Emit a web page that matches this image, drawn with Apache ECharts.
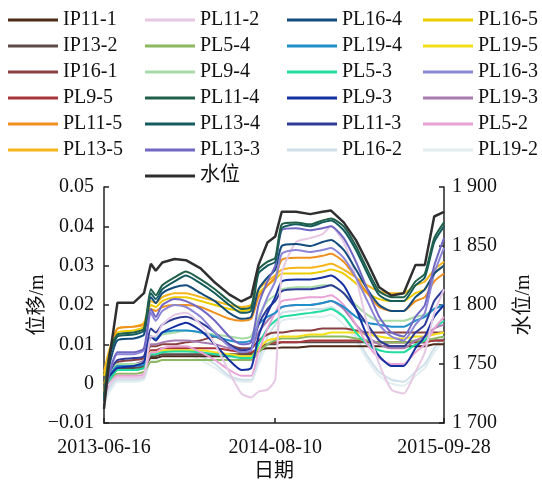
<!DOCTYPE html>
<html>
<head>
<meta charset="utf-8">
<script src="https://cdn.jsdelivr.net/npm/echarts@6/dist/echarts.min.js"></script>
<style>
html,body{margin:0;padding:0;background:#fff}
#chart{width:542px;height:484px}
</style>
</head>
<body>
<div id="chart"></div>
<script>
// sample dates (x axis)
var dates = ['2013-06-16','2013-06-30','2013-07-19','2013-08-28','2013-09-22','2013-10-09','2013-10-21',
    '2013-11-06','2013-12-06','2014-01-03','2014-02-08','2014-03-15','2014-04-19','2014-05-19','2014-06-12',
    '2014-06-30','2014-07-22','2014-08-10','2014-08-26','2014-09-30','2014-11-04','2014-12-04','2014-12-25',
    '2015-01-25','2015-02-24','2015-03-24','2015-04-22','2015-05-22','2015-06-21','2015-07-20','2015-08-12',
    '2015-09-04','2015-09-28'];

// 水位 (m), right axis
var waterLevel = [1712,1757,1802,1802,1810,1835,1829,1836,1839,1838,1831,1819,1809,1803,1807,1834,1853,1858,1879,1879,1877,1879,1880,1870,1855,1836,1815,1808,1810,1834,1834,1875,1879];

// displacement, mm (axis labels shown in m)
var PL11_4 = [-3,8,12.5,13,14,24,22.5,25,27,28.5,26.5,24,21,19,19.5,29,31,32,40.5,41,40.5,41.5,42,40,35,29,23.5,22,22,26,28,37,41];
var PL13_4 = [-4,7,12,12.5,13.5,23,21.5,24,26,27.5,25.5,23,20,18,18.5,28,30,31,39.5,40.5,40,41,41.5,39,34,28,22.5,21,21,25,27,36,40];
var PL13_3 = [-4,3,8,8,9,19,17,20,21.5,21,19,16,12,10,10.5,20,26,30,39,39.5,39,39.5,40,37,31,24,17,13,12,17,20,30,37];
var PL16_3 = [-3,3,7.5,7.5,8.5,18,16,18.5,20,19.5,17,13,9.5,8,8.5,16,22,26,33,34,33.5,34,34.5,32,27,21,15,12,11,15,18,28,34.5];
var PL11_2 = [-2,0,1.5,1.5,2,12,12,15,17.5,18,15,10,3,-2.5,-3.5,-2,-1.5,1,28,36,37,38,40,36,27,15,5,-1.5,-2.5,3,8,18,24];
var PL16_4 = [-4,5,11,11.5,12.5,22,20.5,23,24.5,25,23,21,18,16.5,17,24,27,29,35,35.5,35,36,36.5,34,29,24,20,18.5,18.5,22,24,28,30];
var PL11_5 = [-2,8,14,14.5,15,19,18.5,19.5,20,20,19.5,18,16.5,16,16.5,22,25,27,31.5,32,32,32.5,33,31,27,23,19.5,18.5,18.5,21,22,26,28];
var PL13_5 = [3,9,14,14.5,15.5,21,20.5,22,23,23,22,21,20,19.5,20,24,26,27.5,29,29.5,29.5,30,30.5,29,27,25,23.5,23,23,25,26,29,31];
var PL16_5 = [2,8,13,13.5,14.5,20,19.5,21,22,22,21,20,19,18.5,19,23,25,26.5,28,28,28,28.5,29,28,25.5,23,21.5,21,21,23,24,28,30];
var PL19_5 = [0,3,5,5,5.5,8,8,8.5,8.5,8.5,8.5,8,7.5,7,7,9,11,11.5,12,12,12.5,12.5,13,13,13,12.5,12,11.5,11.5,12,12,12.5,13];
var PL9_3 = [-1,2,4,4.5,5.5,12,11,13,14.5,15.5,13.5,10,6,3.5,4,12,18,22,26,26.5,26.5,27,27.5,25,19,12,7,4.5,4.5,9,12,17,20];
var PL11_3 = [-2,3,6,6.5,7,14,13,15,16.5,17,15.5,13,10,8.5,9,15,19,21,23.5,24,24,24.5,25,23,19,15,11,9.5,9.5,13,15,21,24];
var PL19_4 = [-1,2,4.5,4.5,5,12,11.5,13,13.5,13.5,13,12,11,10.5,11,15,17,18,19.5,20,20,20.5,21,19.5,17,15.5,15,14.5,14.5,16,17,19,20];
var PL9_4 = [-2,2,5,5,5.5,12,11.5,12.5,13,13.5,13,12.5,12,11.5,12,17,21,22.5,24,24.5,24.5,25,25,23,20,17.5,16,16,16,17,17.5,19,20];
var PL5_2 = [-3,0,2,2,2.5,8,8,9,9.5,9.5,8,6,3.5,2,2,8,14,18,21,21.5,22,22,22.5,20,15,10,6.5,5,5,8,10,14,17];
var PL19_3 = [-2,2,5,5,6,10,10,10.5,11,11,10.5,10,9,8.5,9,13,16,18,19.5,20,20,20.5,21,19,15,12,10,9,9,11,12,14,15];
var PL5_3 = [-1,1,3.5,3.5,4,7.5,7.5,8,8.2,8.2,8,7.5,7,6.5,6.5,10,14,16,17,17.5,18,18.5,19,17,13,10,8.5,8,8,10,11,14,16];
var PL16_2 = [-4,-1,1,1,1.5,7,7,8,8.5,8.5,7,5,2,1,1,6,12,15,18,18.5,19,19,19.5,17,12,7,3,1,0.5,3,5,9,12];
var PL19_2 = [-5,-2,0.5,0.5,1,6,6,7,7.5,7.5,6,4,1.5,0.5,0.5,5,10,13,16,16.5,17,17,17.5,15,11,6,2,0,-0.5,2,4,8,11];
var PL5_4 = [-1,1,2.5,2.5,3,5.5,5.5,6,6,6,6,6,6,6,6,8,10,11,11.5,11.5,12,12,12,12,11.5,11,10.5,10.5,10.5,11,11,11.5,12];
var IP16_1 = [0,3,5.5,6,6.5,9.5,9.5,10,10,10.5,11,12,10,9,9,11,12.5,13,13,13.5,13.5,14,14,14,13.5,13,13,13,13,13,13,13,13];
var PL9_5 = [0,2.5,5,5,5.5,8.5,8.5,9,9,9,9,9,8.5,8,8,9,10,10.5,10.5,10.5,11,11,11,11,11,10.5,10.5,10.5,10.5,10.5,10.5,11,11];
var IP11_1 = [-1,1,3.5,3.5,4,6.5,6.5,7,7,7,7,7,7,7.5,7.5,8.5,9,9,9.2,9.2,9.5,9.5,9.5,9.5,9.5,9.5,9.5,9.5,9.5,9.5,9.5,10,10];
var IP13_2 = [-1,1.5,4,4,4.5,7,7,7.5,7.5,7.5,7.5,7.5,7.5,7.5,7.5,9,10,10,10.5,10.5,10.5,10.5,10.5,10.5,10.5,10.5,10.5,10.5,10.5,10.5,10.5,11,11];

var xTicks = ['2013-06-16', '2014-08-10', '2015-09-28'];

// drawing order: low flat ones first, water level last
var lines = [
    ['PL19-2', PL19_2, '#e2eef0'],
    ['PL16-2', PL16_2, '#cfe0ea'],
    ['IP11-1', IP11_1, '#4b2a17'],
    ['IP13-2', IP13_2, '#5c4b47'],
    ['PL9-5', PL9_5, '#a8353a'],
    ['PL5-4', PL5_4, '#8cb860'],
    ['IP16-1', IP16_1, '#8a4040'],
    ['PL19-5', PL19_5, '#f3e01a'],
    ['PL5-3', PL5_3, '#22dca0'],
    ['PL19-3', PL19_3, '#a87cb0'],
    ['PL5-2', PL5_2, '#e8a2d6'],
    ['PL9-4', PL9_4, '#a8dca6'],
    ['PL19-4', PL19_4, '#2090cc'],
    ['PL11-3', PL11_3, '#2e3c98'],
    ['PL9-3', PL9_3, '#1530a0'],
    ['PL16-5', PL16_5, '#eecd00'],
    ['PL13-5', PL13_5, '#f7b51c'],
    ['PL11-5', PL11_5, '#f0901e'],
    ['PL11-2', PL11_2, '#e6c8e4'],
    ['PL16-3', PL16_3, '#8c86d8'],
    ['PL16-4', PL16_4, '#134c7c'],
    ['PL13-3', PL13_3, '#7068c4'],
    ['PL13-4', PL13_4, '#145c5e'],
    ['PL11-4', PL11_4, '#20604a']
];

var legendCols = [
    ['IP11-1', 'IP13-2', 'IP16-1', 'PL9-5', 'PL11-5', 'PL13-5'],
    ['PL11-2', 'PL5-4', 'PL9-4', 'PL11-4', 'PL13-4', 'PL13-3', '水位'],
    ['PL16-4', 'PL19-4', 'PL5-3', 'PL9-3', 'PL11-3', 'PL16-2'],
    ['PL16-5', 'PL19-5', 'PL16-3', 'PL19-3', 'PL5-2', 'PL19-2']
];
var legendLeft = [8, 145, 287, 423];

var FONT = '"Liberation Serif", "Noto Sans CJK SC", serif';

function toTime(d) { return +echarts.time.parse(d); }

function zip(vals) {
    var out = [];
    for (var i = 0; i < dates.length; i++) out.push([toTime(dates[i]), vals[i]]);
    return out;
}

var series = [];
lines.forEach(function (l) {
    series.push({
        name: l[0],
        type: 'line',
        yAxisIndex: 0,
        symbol: 'none',
        smooth: 0.2,
        itemStyle: {color: l[2]},
        lineStyle: {color: l[2], width: 2},
        data: zip(l[1])
    });
});
series.push({
    name: '水位',
    type: 'line',
    yAxisIndex: 1,
    symbol: 'none',
    itemStyle: {color: '#2f2f2f'},
    lineStyle: {color: '#2f2f2f', width: 2.5},
    data: zip(waterLevel)
});

var legends = legendCols.map(function (col, i) {
    return {
        orient: 'vertical',
        left: legendLeft[i],
        top: 10,
        padding: 0,
        icon: 'rect',
        itemWidth: 50,
        itemHeight: 3,
        itemGap: 6,
        selectedMode: false,
        textStyle: {fontFamily: FONT, fontSize: 20, color: '#111', lineHeight: 20},
        data: col
    };
});

var axisLineStyle = {show: true, onZero: false, lineStyle: {color: '#222', width: 1.5}};
var tickTimes = xTicks.map(toTime);

var option = {
    animation: false,
    backgroundColor: '#fff',
    legend: legends,
    grid: {left: 104, right: 82, top: 187, bottom: 61},
    xAxis: {
        type: 'value',
        min: tickTimes[0],
        max: tickTimes[2],
        name: '日期',
        nameLocation: 'middle',
        nameGap: 39,
        nameMoveOverlap: false,
        nameTextStyle: {fontFamily: FONT, fontSize: 20, color: '#111'},
        axisLine: axisLineStyle,
        axisTick: {inside: true, length: 5, lineStyle: {color: '#222', width: 1.5},
            customValues: tickTimes},
        axisLabel: {
            fontFamily: FONT, fontSize: 20, color: '#111', margin: 15,
            customValues: tickTimes,
            formatter: function (v) { return echarts.time.format(v, '{yyyy}-{MM}-{dd}', false); }
        },
        splitLine: {show: false}
    },
    yAxis: [{
        type: 'value',
        min: -10, max: 50, interval: 10,
        name: '位移/m',
        nameLocation: 'middle',
        nameRotate: 90,
        nameGap: 56,
        nameMoveOverlap: false,
        nameTextStyle: {fontFamily: FONT, fontSize: 20, color: '#111'},
        axisLine: axisLineStyle,
        axisTick: {inside: true, length: 5, lineStyle: {color: '#222', width: 1.5}},
        axisLabel: {
            fontFamily: FONT, fontSize: 20, color: '#111', margin: 10,
            formatter: function (v) {
                if (v === 0) return '0';
                var s = (Math.abs(v) / 1000).toFixed(2);
                return v < 0 ? '\u2212' + s : s;
            }
        },
        splitLine: {show: false}
    }, {
        type: 'value',
        position: 'right',
        min: 1700, max: 1900, interval: 50,
        name: '水位/m',
        nameLocation: 'middle',
        nameRotate: 90,
        nameGap: 70,
        nameMoveOverlap: false,
        nameTextStyle: {fontFamily: FONT, fontSize: 20, color: '#111'},
        axisLine: axisLineStyle,
        axisTick: {inside: true, length: 5, lineStyle: {color: '#222', width: 1.5}},
        axisLabel: {
            fontFamily: FONT, fontSize: 20, color: '#111', margin: 8,
            formatter: function (v) {
                var s = String(v);
                return s.slice(0, 1) + ' ' + s.slice(1);
            }
        },
        splitLine: {show: false}
    }],
    series: series
};

var myChart = echarts.init(document.getElementById('chart'));
myChart.setOption(option);
</script>
</body>
</html>
